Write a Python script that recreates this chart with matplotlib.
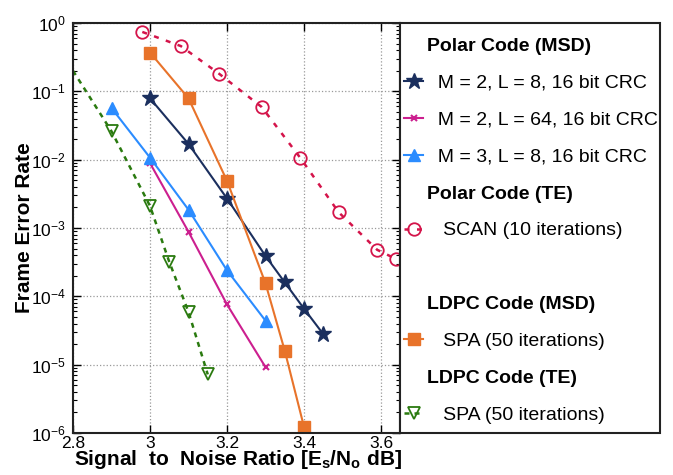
import numpy as np
import matplotlib
matplotlib.use("Agg")
import matplotlib.pyplot as plt
from matplotlib.lines import Line2D
from matplotlib.patches import Rectangle

plt.rcParams['font.family'] = ['Liberation Sans', 'DejaVu Sans']
plt.rcParams['mathtext.fontset'] = 'custom'
plt.rcParams['mathtext.rm'] = 'Liberation Sans'
plt.rcParams['mathtext.bf'] = 'Liberation Sans:bold'

# polar code, MSD
snr_m2_l8 = [3.0, 3.1, 3.2, 3.3, 3.35, 3.4, 3.45]
fer_m2_l8 = [0.079, 0.017, 2.7e-3, 3.9e-4, 1.6e-4, 6.6e-5, 2.8e-5]

snr_m2_l64 = [3.0, 3.1, 3.2, 3.3]
fer_m2_l64 = [8.9e-3, 8.8e-4, 7.6e-5, 9.2e-6]

snr_m3_l8 = [2.9, 3.0, 3.1, 3.2, 3.3]
fer_m3_l8 = [0.057, 0.0107, 1.85e-3, 2.4e-4, 4.4e-5]

# polar code, TE
snr_scan = [2.98, 3.08, 3.18, 3.29, 3.39, 3.49, 3.59, 3.64]
fer_scan = [0.74, 0.46, 0.18, 0.059, 0.0107, 1.7e-3, 4.8e-4, 3.5e-4]

# LDPC, MSD
snr_ldpc_msd = [3.0, 3.1, 3.2, 3.3, 3.35, 3.4]
fer_ldpc_msd = [0.37, 0.079, 4.9e-3, 1.55e-4, 1.6e-5, 1.23e-6]

# LDPC, TE (first point sits on the axis edge)
snr_ldpc_te = [2.8, 2.9, 3.0, 3.05, 3.1, 3.15]
fer_ldpc_te = [0.2, 0.026, 2.1e-3, 3.2e-4, 5.9e-5, 7.2e-6]

xticks = [2.8, 3.0, 3.2, 3.4, 3.6]
xticklabels = ['2.8', '3', '3.2', '3.4', '3.6']

c_navy = '#1b2f5e'
c_mag = '#cc1f8f'
c_blue = '#2b8cff'
c_red = '#d4144a'
c_orange = '#e8732a'
c_green = '#2a7a0f'

W, H = 673, 475
fig = plt.figure(figsize=(W / 100, H / 100), dpi=100)
ax = fig.add_axes([73 / W, 1 - 433 / H, 327 / W, 410 / H])

ax.semilogy(snr_m2_l8, fer_m2_l8, '-*', color=c_navy, lw=1.5, ms=12)
ax.semilogy(snr_m2_l64, fer_m2_l64, '-x', color=c_mag, lw=1.5, ms=5, mew=1.5)
ax.semilogy(snr_m3_l8, fer_m3_l8, '-^', color=c_blue, lw=1.5, ms=8)
ax.semilogy(snr_scan, fer_scan, ':o', color=c_red, lw=1.8, ms=9,
            mfc='none', mew=1.3, dashes=(2, 3))
ax.semilogy(snr_ldpc_msd, fer_ldpc_msd, '-s', color=c_orange, lw=1.5, ms=8)
ax.semilogy(snr_ldpc_te, fer_ldpc_te, '--v', color=c_green, lw=1.8, ms=9,
            mfc='none', mew=1.3, dashes=(2, 2), markevery=slice(1, None))

ax.set_xlim(2.8, 2.8 + 327 / 385)
ax.set_ylim(1e-6, 1)
ax.set_xticks(xticks)
ax.set_xticklabels(xticklabels)
ax.set_yticks([10.0 ** k for k in range(-6, 1)])
ax.set_yticklabels([r'$\mathregular{10^{%d}}$' % k for k in range(-6, 1)])
ax.tick_params(which='both', direction='in', top=True, right=True,
               labelsize=12.5)
ax.tick_params(which='major', length=6, width=1)
ax.tick_params(which='minor', length=3, width=0.8)
ax.tick_params(axis='x', pad=2)
ax.tick_params(axis='y', pad=5)
ax.grid(True, which='major', linestyle=':', color='#999999', lw=0.9)
for s in ax.spines.values():
    s.set_linewidth(1.5)
    s.set_color('#222222')

ax.set_ylabel('Frame Error Rate', fontsize=15, fontweight='bold')
ax.set_xlabel(r'Signal  to  Noise Ratio [$\mathbf{E_s/N_o}$ dB]',
              fontsize=15, fontweight='bold')
ax.yaxis.set_label_coords(-0.12, 0.5)
ax.xaxis.set_label_coords(0.505, -0.037)

blank = Line2D([], [], linestyle='none')
handles = [
    blank,
    Line2D([], [], color=c_navy, marker='*', ms=12, lw=1.5),
    Line2D([], [], color=c_mag, marker='x', ms=5, mew=1.5, lw=1.5),
    Line2D([], [], color=c_blue, marker='^', ms=8, lw=1.5),
    blank,
    Line2D([], [], color=c_red, marker='o', ms=9, mfc='none', mew=1.3,
           lw=1.8, linestyle=':', dashes=(2, 3)),
    blank,
    blank,
    Line2D([], [], color=c_orange, marker='s', ms=8, lw=1.5),
    blank,
    Line2D([], [], color=c_green, marker='v', ms=9, mfc='none', mew=1.3,
           lw=1.8, linestyle='--', dashes=(2, 2)),
]
labels = [
    'Polar Code (MSD)',
    '  M = 2, L = 8, 16 bit CRC',
    '  M = 2, L = 64, 16 bit CRC',
    '  M = 3, L = 8, 16 bit CRC',
    'Polar Code (TE)',
    '   SCAN (10 iterations)',
    ' ',
    'LDPC Code (MSD)',
    '   SPA (50 iterations)',
    'LDPC Code (TE)',
    '   SPA (50 iterations)',
]
headers = ('Polar Code (MSD)', 'Polar Code (TE)',
           'LDPC Code (MSD)', 'LDPC Code (TE)')

# legend box sits right of the axes, same height
box = Rectangle((400 / W, 1 - 433 / H), 260 / W, 410 / H,
                transform=fig.transFigure, facecolor='white',
                edgecolor='#222222', lw=1.5, zorder=1)
fig.patches.append(box)

leg = fig.legend(handles, labels, loc='upper left',
                 bbox_to_anchor=(404 / W, 1 - 37.5 / H),
                 bbox_transform=fig.transFigure, fontsize=14, frameon=False,
                 handlelength=1.0, handletextpad=0.2, labelspacing=0.99,
                 borderpad=0, borderaxespad=0)
leg.set_zorder(2)
for t, lab in zip(leg.get_texts(), labels):
    if lab in headers:
        t.set_fontweight('bold')
    t.set_clip_path(box)

fig.savefig('out.png', dpi=100)
